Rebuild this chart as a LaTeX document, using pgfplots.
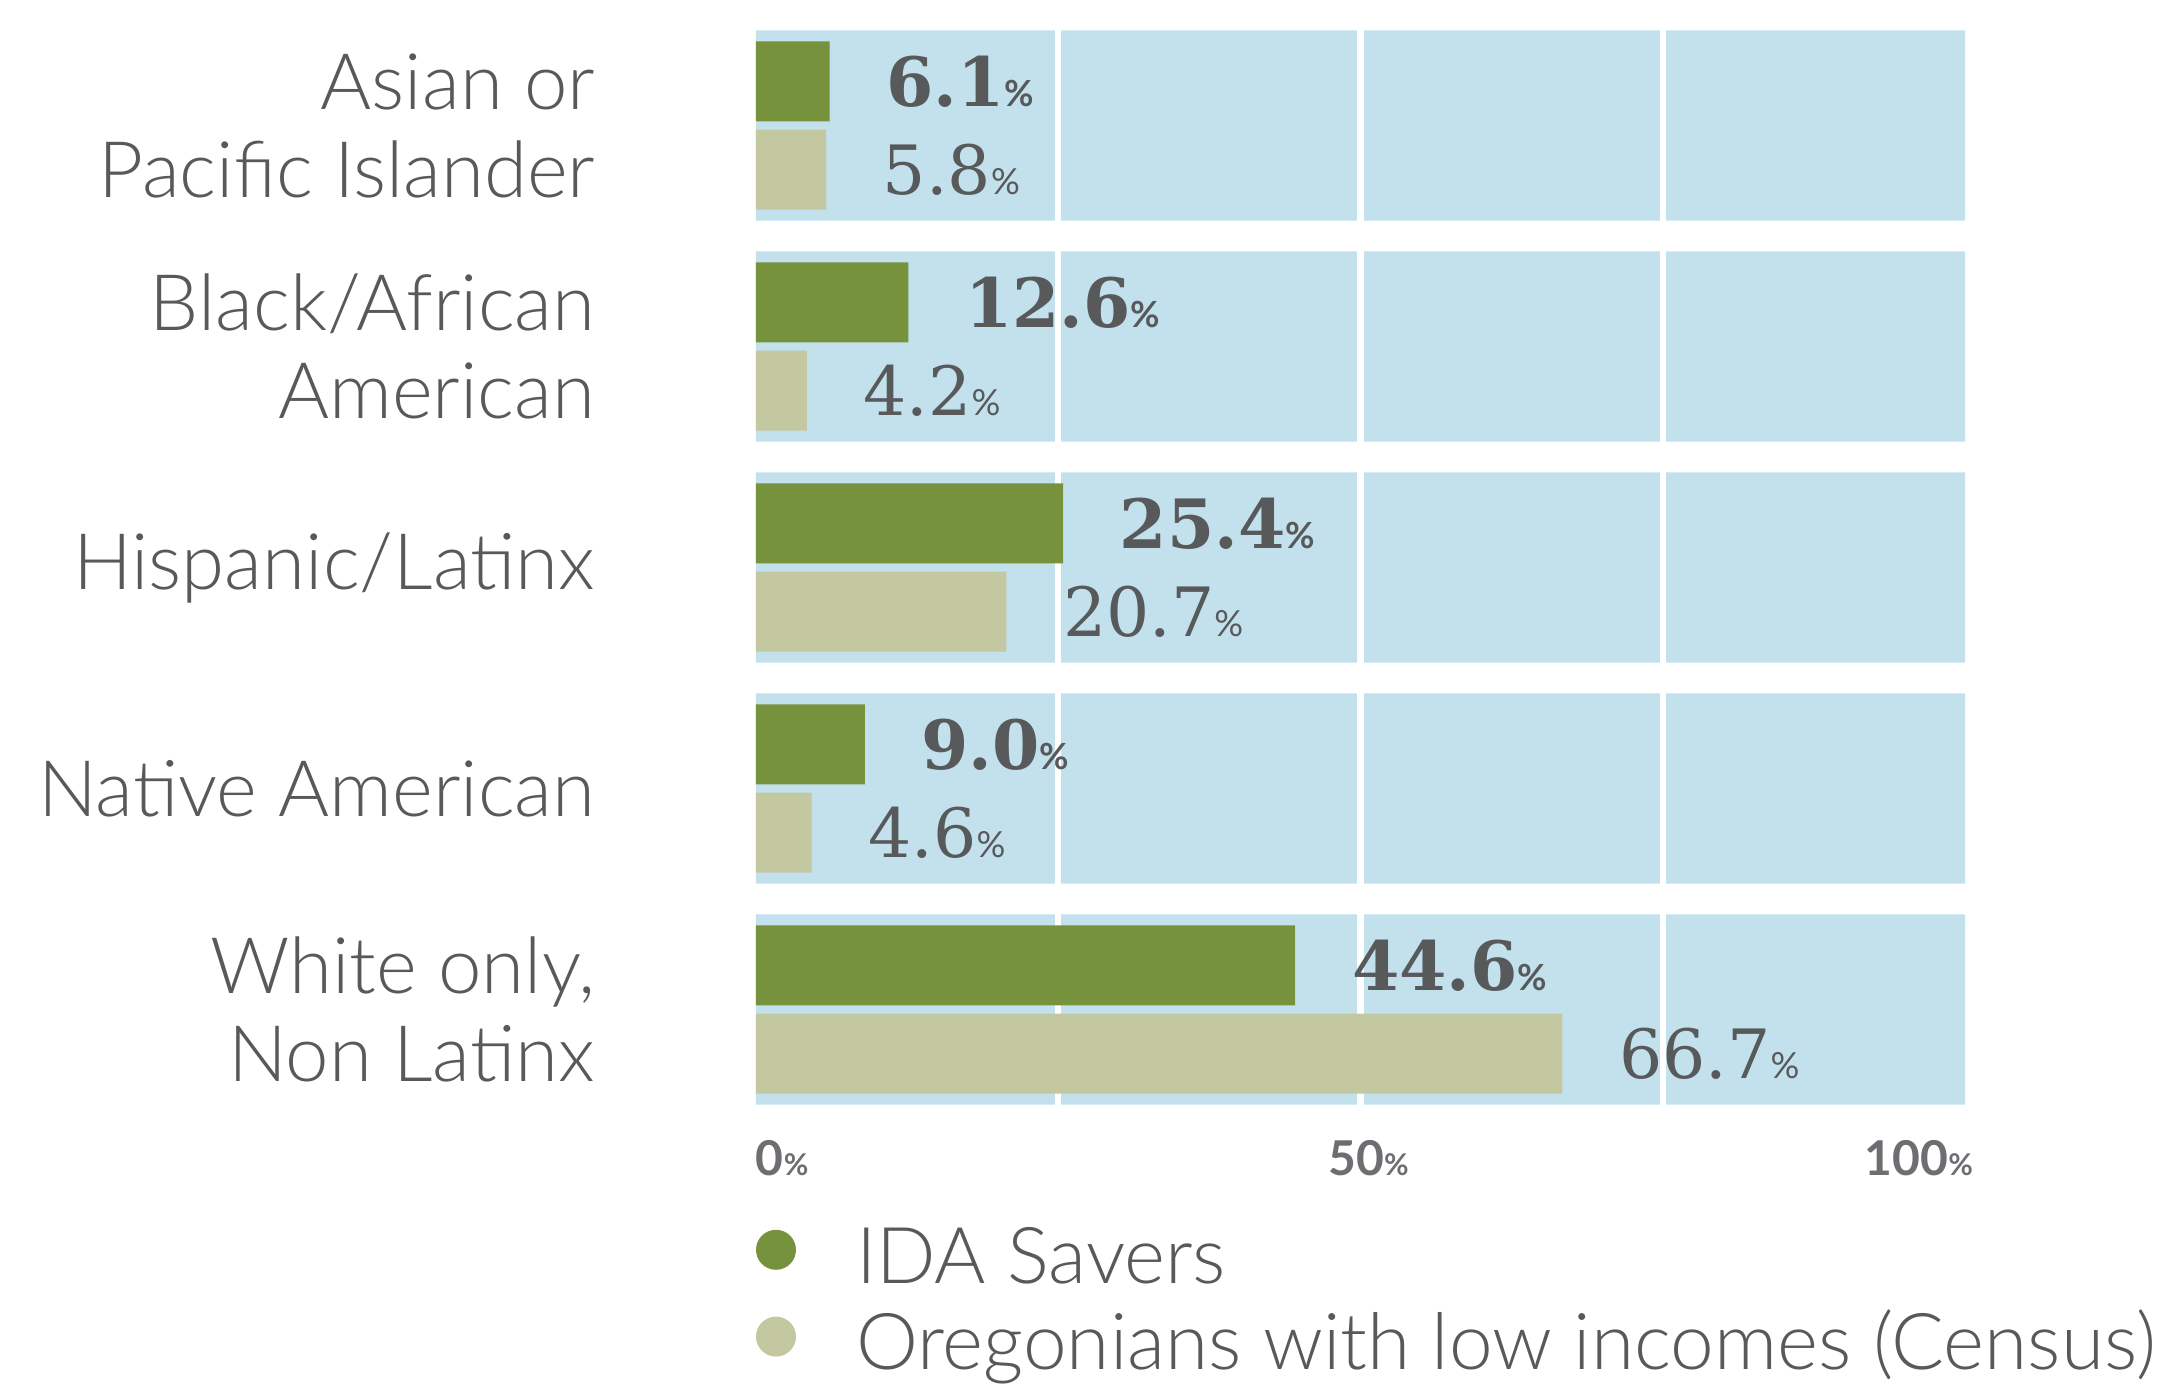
\documentclass[border=0pt]{standalone}
\usepackage{fontspec}
\usepackage{pgfplots}
\pgfplotsset{compat=1.18}
\setmainfont{Lato}[UprightFont=* Light, BoldFont=* Bold]
\newfontfamily\valfont{DejaVu Serif}
\newfontfamily\tickfont{Lato}
\definecolor{band}{HTML}{C2E1EC}
\definecolor{idagreen}{HTML}{76923C}
\definecolor{census}{HTML}{C3C8A1}
\definecolor{txt}{HTML}{58595B}
\definecolor{ticktxt}{HTML}{6D6E71}
\newcommand{\pct}{{\tickfont\fontsize{9}{9}\selectfont\%}}
\newcommand{\tpct}{{\fontsize{7.5}{7.5}\selectfont\%}}
\begin{document}
\begin{tikzpicture}
\useasboundingbox (0,0) rectangle (541pt,347.5pt);
\begin{axis}[
  at={(189pt,67.5pt)}, anchor=south west,
  scale only axis, width=302.25pt, height=276.25pt,
  xmin=0, xmax=100, ymin=-0.5, ymax=4.5, y dir=reverse,
  enlargelimits=false, clip=false,
  axis line style={draw=none}, major tick length=0pt, tick style={draw=none},
  /pgf/number format/assume math mode=true,
  xtick={0,50,100},
  xticklabels={\makebox[0pt][l]{0\tpct},{\hspace{4pt}50\tpct},\makebox[0pt][r]{100\tpct\hspace{-2pt}}},
  xticklabel style={font=\tickfont\bfseries\fontsize{12}{12}\selectfont, text=ticktxt, inner sep=0pt, anchor=north, yshift=-5pt},
  ytick={0,1,2,3,4},
  yticklabels={{Asian or\\Pacific Islander}, {Black/African\\American}, {Hispanic/Latinx}, {Native American}, {White only,\\Non Latinx}},
  yticklabel style={font=\fontsize{19.5}{22}\selectfont, text=txt, align=right, inner sep=0pt, anchor=east, xshift=-40pt},
  legend style={at={(axis description cs:0,0)}, anchor=north west, draw=none, fill=none,
    inner sep=0pt, outer sep=0pt, yshift=-25.75pt, row sep=1.7pt, column sep=0pt,
    font=\fontsize{19.6}{22}\selectfont, text=txt,
    nodes={inner sep=0pt, text height=15pt, text depth=5pt}},
  legend cell align=left,
]
% background bands
\addplot[xbar, bar shift=0, bar width=0.86, fill=band, draw=none, forget plot]
  coordinates {(100,0) (100,1) (100,2) (100,3) (100,4)};
% white gridlines
\addplot[white, line width=1.6pt, forget plot] coordinates {(25,-0.5) (25,4.5)};
\addplot[white, line width=1.6pt, forget plot] coordinates {(50,-0.5) (50,4.5)};
\addplot[white, line width=1.6pt, forget plot] coordinates {(75,-0.5) (75,4.5)};
% IDA Savers
\addplot[xbar, bar shift=-0.2, bar width=0.362, fill=idagreen, draw=none,
  point meta=x,
  nodes near coords={\valfont\bfseries\fontsize{17}{17}\selectfont\pgfmathprintnumber[fixed,fixed zerofill,precision=1]{\pgfplotspointmeta}\pct},
  every node near coord/.append style={anchor=west, inner sep=0pt, xshift=14pt, yshift=11.05pt, text=txt},
  legend image code/.code={\fill[idagreen] (5pt,3.3pt) circle (5pt);}]
  coordinates {(6.1,0) (12.6,1) (25.4,2) (9.0,3) (44.6,4)};
\addlegendentry{\hspace{15pt}IDA Savers}
% Census
\addplot[xbar, bar shift=0.2, bar width=0.362, fill=census, draw=none,
  point meta=x,
  nodes near coords={\valfont\fontsize{17}{17}\selectfont\pgfmathprintnumber[fixed,fixed zerofill,precision=1]{\pgfplotspointmeta}\pct},
  every node near coord/.append style={anchor=west, inner sep=0pt, xshift=14pt, yshift=-11.05pt, text=txt},
  legend image code/.code={\fill[census] (5pt,3.3pt) circle (5pt);}]
  coordinates {(5.8,0) (4.2,1) (20.7,2) (4.6,3) (66.7,4)};
\addlegendentry{\hspace{15pt}Oregonians with low incomes (Census)}
\end{axis}
\end{tikzpicture}
\end{document}
